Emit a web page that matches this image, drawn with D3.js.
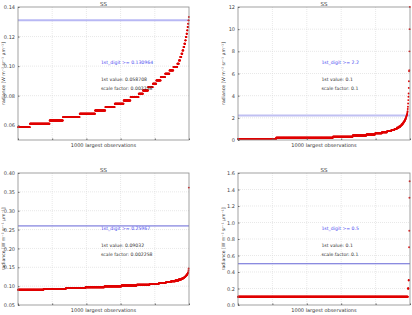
<!DOCTYPE html>
<html>
<head>
<meta charset="utf-8">
<script src="https://cdn.jsdelivr.net/npm/d3@7"></script>
<style>
  body { margin: 0; background: #fff; }
  svg { display: block; font-family: "DejaVu Sans", sans-serif; }
</style>
</head>
<body>
<svg id="chart" width="412" height="315"></svg>
<script>
// ---- Data: quantized radiances, stored as (step index, count) ----
// value = firstValue + step * scaleFactor
const p1First = 0.058708, p1Scale = 0.002258, p1Digit = 0.130964;
const p1Steps = [0,1,2,3,4,5,6,7,8,9,10,11,12,13,14,15,16,17,18,19,20,21,22,23,24,25,26,27,28,29,30,31,32,33];
const p1Counts = [70,115,78,98,90,60,55,52,40,48,25,30,28,20,26,26,25,23,23,9,8,7,6,6,5,5,4,4,3,3,3,2,2,1];

const p2First = 0.1, p2Scale = 0.1, p2Digit = 2.2;
const p2Steps = [0,1,2,3,4,5,6,7,8,9,10,11,12,13,14,15,16,17,18,19,20,21,22,23,24,25,27,29,32,35,38,41,46,52,61,62,79,99,119];
const p2Counts = [222,330,115,80,50,40,30,25,18,14,11,9,7,6,5,4,4,3,3,2,2,2,2,1,1,1,1,1,1,1,1,1,1,1,1,1,1,1,1];

const p3First = 0.09032, p3Scale = 0.002258, p3Digit = 0.25967;
const p3Steps = [0,1,2,3,4,5,6,7,8,9,10,11,12,13,14,15,16,17,18,19,20,21,23,25,120];
const p3Counts = [150,130,115,110,100,90,75,55,40,30,25,20,15,10,8,6,5,4,3,3,2,1,1,1,1];

const p4First = 0.1, p4Scale = 0.1, p4Digit = 0.5;
const p4Steps = [0,1,2,6,8,12,14];
const p4Counts = [988,4,3,1,1,1,1];

const p1Ticks = [0.06, 0.08, 0.10, 0.12, 0.14];
const p2Ticks = [0, 2, 4, 6, 8, 10, 12];
const p3Ticks = [0.05, 0.10, 0.15, 0.20, 0.25, 0.30, 0.35, 0.40];
const p4Ticks = [0.0, 0.2, 0.4, 0.6, 0.8, 1.0, 1.2, 1.4, 1.6];
const xTicks = [0, 200, 400, 600, 800, 1000];

const titleText = "SS";
const xLabelText = "1000 largest observations";
const yLabelText = "radiance [W m\u207B\u00B2 sr\u207B\u00B9 \u03BCm\u207B\u00B9]";

const svg = d3.select("#chart");

// expand (step, count) pairs into the sorted list of observations
function expand(first, scale, steps, counts) {
  const out = [];
  steps.forEach((s, i) => {
    for (let j = 0; j < counts[i]; j++) out.push(first + s * scale);
  });
  return out;
}

const panels = [
  { left: 18, right: 189, top: 7, bottom: 140, domain: [0.05, 0.14], ticks: p1Ticks, fmt: d3.format(".2f"),
    values: expand(p1First, p1Scale, p1Steps, p1Counts), first: p1First, scale: p1Scale, digit: p1Digit,
    lineColor: "#b8b8f4", lineWidth: 2 },
  { left: 238, right: 410, top: 7, bottom: 140, domain: [0, 12], ticks: p2Ticks, fmt: d3.format("d"),
    values: expand(p2First, p2Scale, p2Steps, p2Counts), first: p2First, scale: p2Scale, digit: p2Digit,
    lineColor: "#c0c0f2", lineWidth: 2 },
  { left: 18, right: 189, top: 173, bottom: 305, domain: [0.05, 0.40], ticks: p3Ticks, fmt: d3.format(".2f"),
    values: expand(p3First, p3Scale, p3Steps, p3Counts), first: p3First, scale: p3Scale, digit: p3Digit,
    lineColor: "#6464d6", lineWidth: 1 },
  { left: 238, right: 410, top: 173, bottom: 305, domain: [0, 1.6], ticks: p4Ticks, fmt: d3.format(".1f"),
    values: expand(p4First, p4Scale, p4Steps, p4Counts), first: p4First, scale: p4Scale, digit: p4Digit,
    lineColor: "#6464d6", lineWidth: 1 },
];

panels.forEach(drawPanel);

function drawPanel(p) {
  const g = svg.append("g");
  const x = d3.scaleLinear().domain([0, 1000]).range([p.left, p.right]);
  const y = d3.scaleLinear().domain(p.domain).range([p.bottom, p.top]);
  const w = p.right - p.left, h = p.bottom - p.top;

  // ---- Grid ----
  g.selectAll("line.vg").data(xTicks.slice(1, -1)).join("line")
    .attr("x1", d => x(d)).attr("x2", d => x(d))
    .attr("y1", p.top).attr("y2", p.bottom)
    .attr("stroke", "#d8d8d8").attr("stroke-width", 0.6).attr("stroke-dasharray", "1,1");
  g.selectAll("line.hg").data(p.ticks.slice(1, -1)).join("line")
    .attr("x1", p.left).attr("x2", p.right)
    .attr("y1", d => y(d)).attr("y2", d => y(d))
    .attr("stroke", "#d8d8d8").attr("stroke-width", 0.6).attr("stroke-dasharray", "1,1");

  // ---- Threshold line (1st digit) ----
  g.append("line")
    .attr("x1", p.left).attr("x2", p.right)
    .attr("y1", y(p.digit)).attr("y2", y(p.digit))
    .attr("stroke", p.lineColor).attr("stroke-width", p.lineWidth);

  // ---- Observations ----
  g.selectAll("circle").data(p.values).join("circle")
    .attr("cx", (d, i) => x(i))
    .attr("cy", d => y(d))
    .attr("r", 0.95)
    .attr("fill", "#e00000");

  // ---- Frame + axes ----
  g.append("rect")
    .attr("x", p.left).attr("y", p.top).attr("width", w).attr("height", h)
    .attr("fill", "none").attr("stroke", "#8a8a8a").attr("stroke-width", 0.8);

  const yAxis = g.append("g")
    .attr("transform", `translate(${p.left},0)`)
    .call(d3.axisLeft(y).tickValues(p.ticks).tickFormat(p.fmt).tickSize(-1.5).tickPadding(3));
  yAxis.select(".domain").remove();
  yAxis.selectAll("line").attr("stroke", "#666");
  yAxis.selectAll("text").attr("fill", "#444").style("font-size", "5px").style("font-family", "DejaVu Sans");

  const xAxis = g.append("g")
    .attr("transform", `translate(0,${p.bottom})`)
    .call(d3.axisBottom(x).tickValues(xTicks).tickFormat("").tickSize(-1.5));
  xAxis.select(".domain").remove();
  xAxis.selectAll("line").attr("stroke", "#666");

  // ---- Labels ----
  g.append("text")
    .attr("x", p.left + w / 2).attr("y", p.top - 1.5)
    .attr("text-anchor", "middle").attr("fill", "#333")
    .style("font-size", "5.5px").text(titleText);

  g.append("text")
    .attr("x", p.left + w / 2).attr("y", p.bottom + 6.5)
    .attr("text-anchor", "middle").attr("fill", "#333")
    .style("font-size", "5px").text(xLabelText);

  const lx = p.left < 100 ? 3.5 : p.left - 14;
  g.append("text")
    .attr("transform", `translate(${lx},${p.top + h / 2}) rotate(-90)`)
    .attr("text-anchor", "middle").attr("dominant-baseline", "middle").attr("fill", "#333")
    .style("font-size", "4.6px").text(yLabelText);

  // ---- Annotations ----
  const tx = p.left + w * 0.485;
  const notes = [
    { dy: 56, text: `1st_digit >= ${p.digit}`, color: "#4b4bf0" },
    { dy: 73, text: `1st value: ${p.first}`, color: "#333" },
    { dy: 81.7, text: `scale factor: ${p.scale}`, color: "#333" },
  ];
  g.selectAll("text.note").data(notes).join("text")
    .attr("class", "note")
    .attr("x", tx).attr("y", d => p.top + d.dy)
    .attr("dominant-baseline", "middle")
    .attr("fill", d => d.color)
    .style("font-size", "4.6px")
    .text(d => d.text);
}
</script>
</body>
</html>
